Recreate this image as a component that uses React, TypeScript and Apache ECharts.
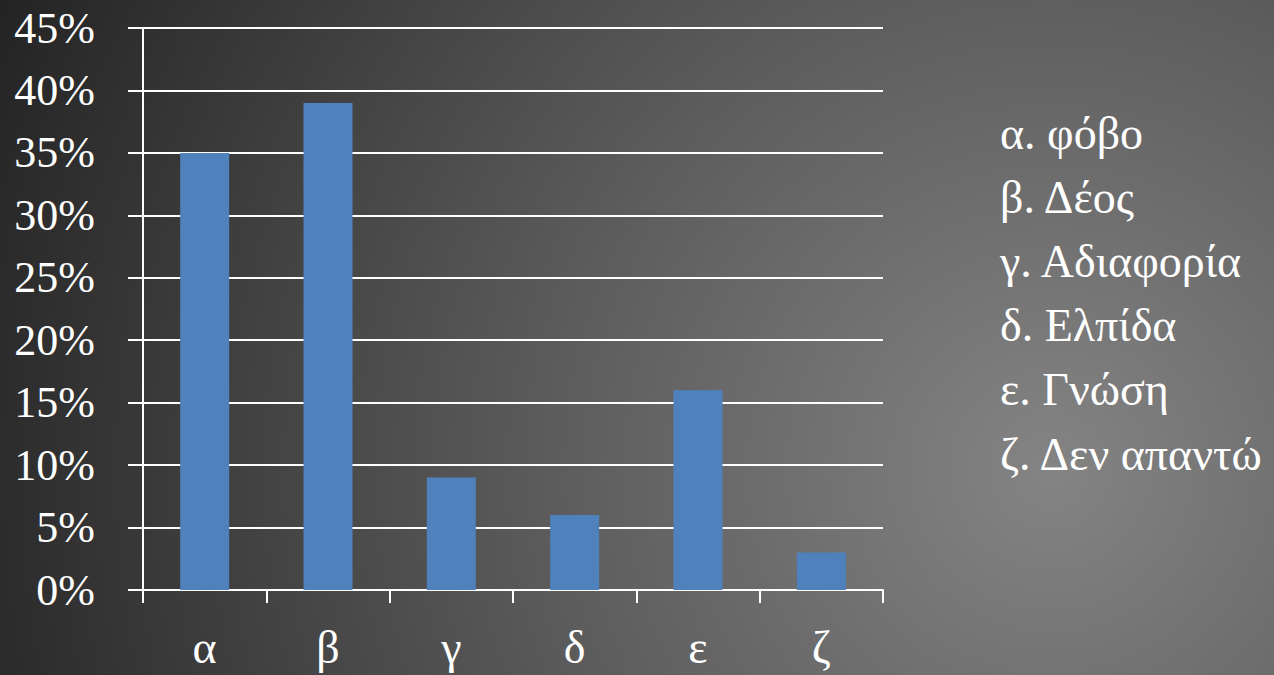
import React, { useEffect, useRef } from "react";
import * as echarts from "echarts";

const categories = ["α", "β", "γ", "δ", "ε", "ζ"];
const values = [35, 39, 9, 6, 16, 3];
const legendLines = [
  "α. φόβο",
  "β. Δέος",
  "γ. Αδιαφορία",
  "δ. Ελπίδα",
  "ε. Γνώση",
  "ζ. Δεν απαντώ",
];

const FONT = "Liberation Serif";

export default function App() {
  const ref = useRef<HTMLDivElement>(null);
  useEffect(() => {
    document.body.style.margin = "0";
    const chart = echarts.init(ref.current!, null, { renderer: "svg" });
    chart.setOption({
      animation: false,
      backgroundColor: "transparent",
      grid: { left: 143, top: 28, width: 740, height: 562, containLabel: false },
      xAxis: {
        type: "category",
        data: categories,
        axisLine: { lineStyle: { color: "#ffffff", width: 2 } },
        axisTick: { show: true, length: 13, lineStyle: { color: "#ffffff", width: 2 } },
        axisLabel: { color: "#ffffff", fontFamily: FONT, fontSize: 46, margin: 34 },
        splitLine: { show: false },
      },
      yAxis: {
        type: "value",
        min: 0,
        max: 45,
        interval: 5,
        axisLine: { show: true, lineStyle: { color: "#ffffff", width: 2 } },
        axisTick: { show: true, inside: false, length: 15, lineStyle: { color: "#ffffff", width: 2 } },
        axisLabel: {
          color: "#ffffff",
          fontFamily: FONT,
          fontSize: 44,
          margin: 48,
          formatter: (v: number) => v + "%",
        },
        splitLine: { show: true, lineStyle: { color: "#ffffff", width: 2 } },
      },
      series: [
        {
          type: "bar",
          data: values,
          barWidth: 49,
          itemStyle: { color: "#4f81bd" },
        },
      ],
      graphic: legendLines.map((t, i) => ({
        type: "text",
        x: 1000,
        y: 133 + i * 64.2,
        style: {
          text: t,
          fill: "#ffffff",
          fontSize: 46,
          fontFamily: FONT,
          verticalAlign: "middle",
          align: "left",
        },
      })),
    });
    return () => chart.dispose();
  }, []);
  return (
    <div
      ref={ref}
      style={{
        width: 1274,
        height: 675,
        background:
          "radial-gradient(circle at 1050px 470px, #848484 0px, #5c5c5c 500px, #1f1f1f 1200px)",
      }}
    />
  );
}
